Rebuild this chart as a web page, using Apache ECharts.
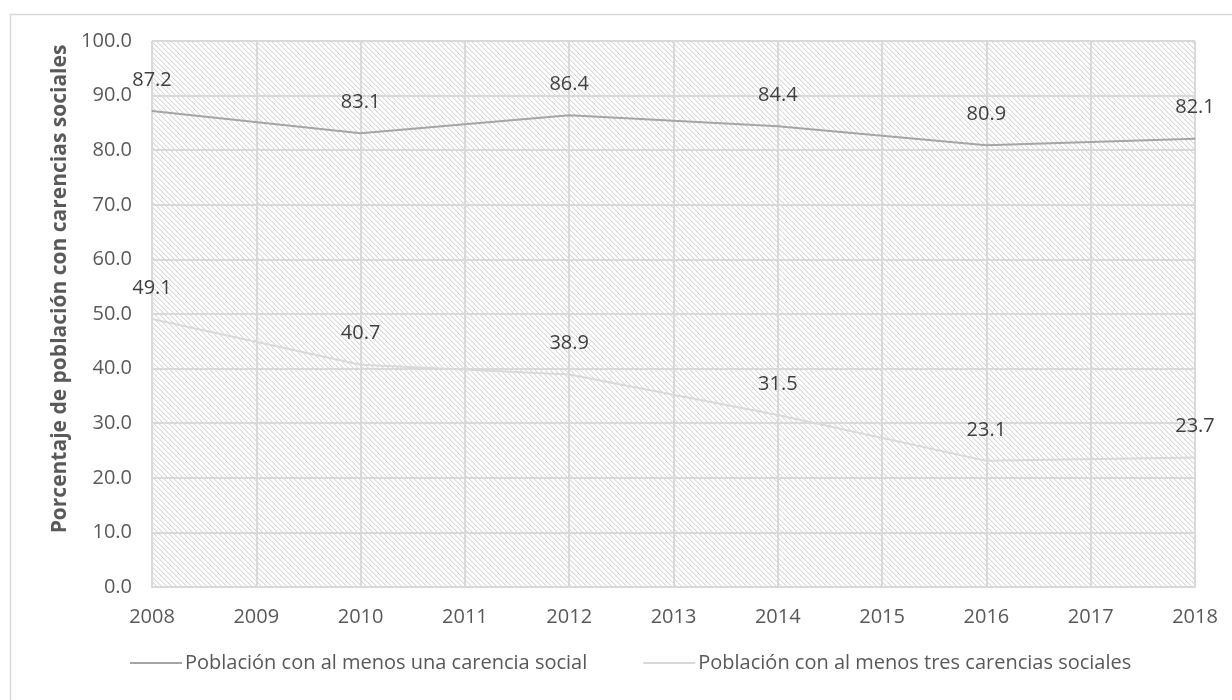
<!DOCTYPE html>
<html>
<head>
<meta charset="utf-8">
<script src="https://cdn.jsdelivr.net/npm/echarts@6/dist/echarts.min.js"></script>
<style>
  html, body { margin: 0; padding: 0; background: #fff; }
  #chart { width: 1232px; height: 700px; }
</style>
</head>
<body>
<div id="chart"></div>
<script>
// Years on the horizontal axis (surveys every two years)
const years = ['2008', '2009', '2010', '2011', '2012', '2013', '2014', '2015', '2016', '2017', '2018'];
// Percent of population with at least one social deprivation
const alMenosUna = [87.2, null, 83.1, null, 86.4, null, 84.4, null, 80.9, null, 82.1];
// Percent of population with at least three social deprivations
const alMenosTres = [49.1, null, 40.7, null, 38.9, null, 31.5, null, 23.1, null, 23.7];
const seriesNames = ['Población con al menos una carencia social', 'Población con al menos tres carencias sociales'];
const seriesColors = ['#a5a5a5', '#d9d9d9'];
const yAxisTitle = 'Porcentaje de población con carencias sociales';

const FONT = '"Open Sans", "Noto Sans", sans-serif';

// Diagonal hatch tile for the plot background
function hatchTile() {
  const n = 5;
  const c = document.createElement('canvas');
  c.width = n; c.height = n;
  const ctx = c.getContext('2d');
  ctx.fillStyle = '#ffffff';
  ctx.fillRect(0, 0, n, n);
  for (let i = 0; i < n; i++) {
    ctx.fillStyle = '#d9d9d9';
    ctx.fillRect(i, i, 1, 1);
    ctx.fillStyle = '#efefef';
    ctx.fillRect((i + 1) % n, i, 1, 1);
  }
  return c;
}

const chart = echarts.init(document.getElementById('chart'), null, { renderer: 'canvas' });

// Value labels sit centred a fixed distance above each point
const labelStyle = {
  show: true,
  position: 'inside',
  offset: [0, -31],
  color: '#404040',
  fontFamily: FONT,
  fontSize: 20,
  formatter: p => p.value.toFixed(1)
};

function lineSeries(idx, values) {
  return {
    name: seriesNames[idx],
    type: 'line',
    data: values,
    connectNulls: true,
    symbol: 'circle',
    symbolSize: 1,
    itemStyle: { color: seriesColors[idx] },
    lineStyle: { color: seriesColors[idx], width: 2 },
    label: labelStyle,
    z: 3
  };
}

chart.setOption({
  animation: false,
  backgroundColor: '#ffffff',
  graphic: [{
    type: 'rect',
    left: 8, top: 12,
    shape: { x: 0, y: 0, width: 1300, height: 760 },
    style: { fill: 'none', stroke: '#d9d9d9', lineWidth: 1.5 },
    silent: true, z: -10
  }],
  grid: {
    left: 152, right: 37, top: 41, bottom: 113,
    show: true,
    backgroundColor: { image: hatchTile(), repeat: 'repeat' },
    borderWidth: 0
  },
  legend: {
    bottom: 22,
    left: 125,
    icon: 'rect',
    itemWidth: 52,
    itemHeight: 2,
    itemGap: 56,
    textStyle: { color: '#595959', fontFamily: FONT, fontSize: 20, padding: [0, 0, 0, -2] },
    data: seriesNames.map((n, i) => ({ name: n, itemStyle: { color: seriesColors[i] } }))
  },
  xAxis: {
    type: 'category',
    data: years,
    boundaryGap: false,
    axisLine: { show: true, lineStyle: { color: '#d9d9d9', width: 2 } },
    axisTick: { show: false },
    axisLabel: { color: '#595959', fontFamily: FONT, fontSize: 20, margin: 20 },
    splitLine: { show: true, lineStyle: { color: '#d9d9d9', width: 2 } }
  },
  yAxis: {
    type: 'value',
    min: 0, max: 100, interval: 10,
    name: yAxisTitle,
    nameLocation: 'middle',
    nameGap: 68,
    nameTextStyle: {
      color: '#595959', fontFamily: FONT, fontSize: 21, fontWeight: 'bold',
      padding: [0, 0, 0, 50]
    },
    axisLine: { show: false },
    axisTick: { show: false },
    axisLabel: { color: '#595959', fontFamily: FONT, fontSize: 20, margin: 20, formatter: v => v.toFixed(1) },
    splitLine: { show: true, lineStyle: { color: '#d9d9d9', width: 2 } }
  },
  series: [
    lineSeries(0, alMenosUna),
    lineSeries(1, alMenosTres)
  ]
});
</script>
</body>
</html>
